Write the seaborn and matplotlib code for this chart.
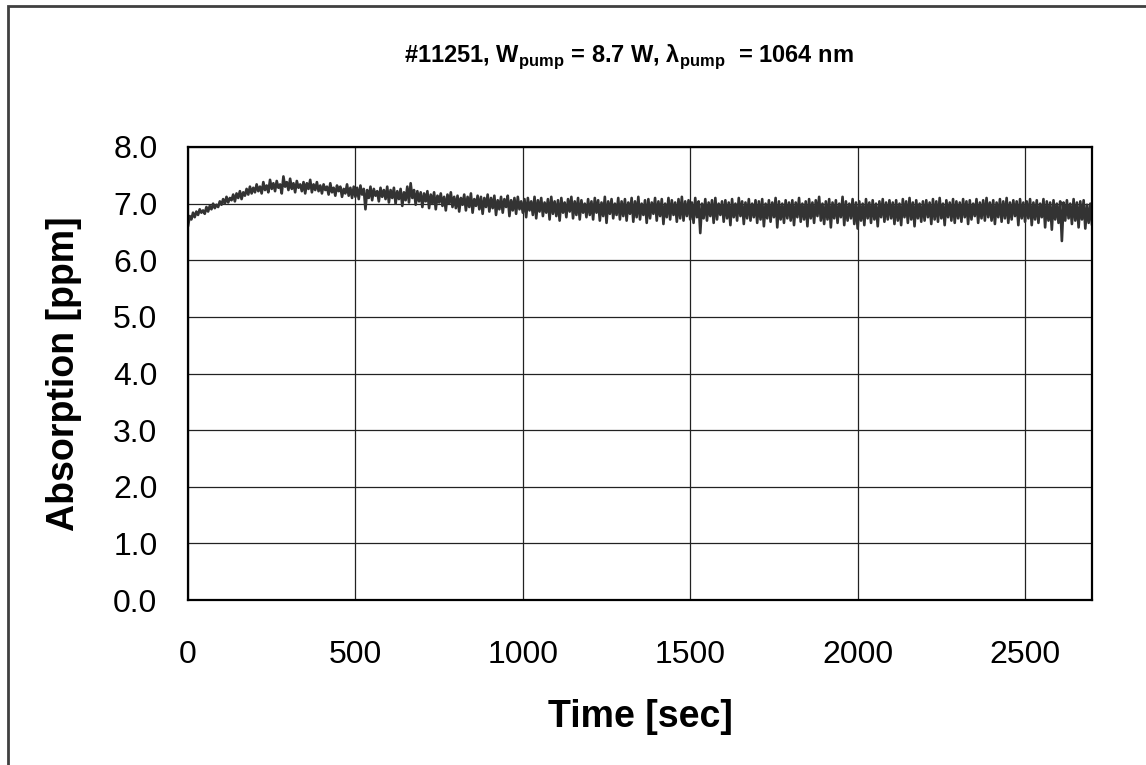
import numpy as np
import pandas as pd
import matplotlib
matplotlib.use("Agg")
import matplotlib.pyplot as plt
from matplotlib.patches import Rectangle
import seaborn as sns

# absorption readings, one every 5 s (0 .. 2700 s)
absorption = [
    6.60, 6.78, 6.72, 6.84, 6.76, 6.86, 6.80, 6.90, 6.84, 6.88, 6.82, 6.94, 6.86, 6.96, 6.90, 7.00, 6.92, 6.98, 6.94, 7.04,
    6.98, 7.08, 7.00, 7.12, 7.02, 7.10, 7.06, 7.16, 7.04, 7.18, 7.10, 7.22, 7.08, 7.20, 7.14, 7.26, 7.16, 7.30, 7.18, 7.28,
    7.20, 7.34, 7.22, 7.30, 7.18, 7.38, 7.24, 7.32, 7.20, 7.42, 7.26, 7.36, 7.22, 7.40, 7.28, 7.34, 7.18, 7.48, 7.30, 7.38,
    7.24, 7.44, 7.26, 7.36, 7.20, 7.40, 7.28, 7.34, 7.22, 7.38, 7.18, 7.36, 7.26, 7.42, 7.20, 7.34, 7.24, 7.38, 7.22, 7.32,
    7.18, 7.34, 7.24, 7.30, 7.16, 7.36, 7.20, 7.28, 7.14, 7.32, 7.22, 7.30, 7.12, 7.26, 7.18, 7.34, 7.14, 7.28, 7.10, 7.30,
    7.12, 7.28, 7.08, 7.32, 7.16, 7.26, 6.90, 7.24, 7.10, 7.30, 7.06, 7.26, 7.14, 7.22, 7.04, 7.28, 7.12, 7.24, 7.08, 7.30,
    7.02, 7.24, 7.10, 7.28, 7.00, 7.22, 7.08, 7.26, 6.96, 7.20, 7.06, 7.30, 7.02, 7.36, 7.10, 7.24, 6.98, 7.22, 7.04, 7.20,
    6.94, 7.18, 7.04, 7.22, 6.92, 7.16, 7.00, 7.20, 6.90, 7.14, 7.02, 7.18, 6.96, 7.12, 6.88, 7.16, 7.00, 7.20, 6.94, 7.12,
    6.92, 7.14, 6.86, 7.10, 6.98, 7.16, 6.88, 7.12, 6.94, 7.18, 6.84, 7.08, 6.96, 7.14, 6.90, 7.12, 6.82, 7.10, 6.94, 7.16,
    6.86, 7.10, 6.92, 7.14, 6.80, 7.06, 6.90, 7.12, 6.84, 7.08, 6.94, 7.14, 6.78, 7.06, 6.88, 7.10, 6.82, 7.12, 6.90, 7.04,
    6.84, 7.08, 6.76, 7.10, 6.88, 7.04, 6.80, 7.12, 6.74, 7.06, 6.86, 7.10, 6.78, 7.02, 6.84, 7.08, 6.72, 7.12, 6.82, 7.04,
    6.78, 7.06, 6.70, 7.10, 6.84, 7.02, 6.76, 7.08, 6.86, 7.12, 6.74, 7.04, 6.80, 7.10, 6.72, 7.06, 6.84, 7.00, 6.76, 7.08,
    6.80, 7.04, 6.72, 7.10, 6.84, 7.06, 6.70, 7.02, 6.78, 7.12, 6.66, 7.04, 6.82, 7.08, 6.74, 7.00, 6.80, 7.10, 6.72, 7.04,
    6.78, 7.08, 6.70, 7.02, 6.82, 7.10, 6.68, 7.04, 6.76, 7.12, 6.72, 7.00, 6.80, 7.06, 6.66, 7.08, 6.74, 7.02, 6.82, 7.10,
    6.70, 7.04, 6.78, 7.08, 6.64, 7.00, 6.76, 7.10, 6.72, 7.06, 6.80, 7.02, 6.68, 7.08, 6.74, 7.12, 6.70, 7.04, 6.78, 7.06,
    6.72, 7.02, 6.66, 7.10, 6.76, 7.04, 6.48, 7.00, 6.74, 7.08, 6.70, 7.02, 6.78, 7.06, 6.66, 7.10, 6.72, 7.00, 6.80, 7.04,
    6.68, 7.06, 6.74, 7.02, 6.62, 7.08, 6.76, 7.00, 6.70, 7.10, 6.78, 7.04, 6.64, 7.02, 6.74, 7.08, 6.70, 7.00, 6.76, 7.06,
    6.66, 7.04, 6.72, 7.08, 6.60, 7.00, 6.74, 7.06, 6.68, 7.02, 6.76, 7.10, 6.58, 7.04, 6.72, 7.00, 6.66, 7.06, 6.74, 7.02,
    6.70, 7.06, 6.62, 7.02, 6.76, 7.10, 6.68, 7.00, 6.72, 7.04, 6.60, 7.08, 6.74, 7.02, 6.66, 7.06, 6.78, 7.12, 6.70, 7.00,
    6.64, 7.04, 6.72, 7.08, 6.58, 7.02, 6.74, 7.06, 6.66, 7.00, 6.76, 7.12, 6.62, 7.04, 6.70, 7.00, 6.74, 7.08, 6.64, 7.02,
    6.56, 7.04, 6.70, 7.00, 6.62, 7.08, 6.74, 7.02, 6.66, 7.06, 6.72, 7.00, 6.60, 7.04, 6.76, 7.08, 6.68, 7.02, 6.72, 7.06,
    6.74, 7.02, 6.64, 7.06, 6.70, 7.00, 6.62, 7.08, 6.76, 7.04, 6.66, 7.10, 6.72, 7.02, 6.60, 7.06, 6.74, 7.00, 6.68, 7.04,
    6.70, 7.06, 6.76, 7.02, 6.64, 7.08, 6.72, 7.04, 6.68, 7.10, 6.74, 7.00, 6.62, 7.06, 6.76, 7.02, 6.70, 7.08, 6.66, 7.04,
    6.74, 7.02, 6.68, 7.08, 6.76, 7.04, 6.64, 7.06, 6.72, 7.00, 6.78, 7.08, 6.66, 7.02, 6.74, 7.06, 6.70, 7.10, 6.76, 7.02,
    6.70, 7.06, 6.64, 7.02, 6.76, 7.08, 6.68, 7.04, 6.74, 7.10, 6.66, 7.02, 6.72, 7.06, 6.78, 7.04, 6.62, 7.08, 6.74, 7.02,
    6.68, 7.04, 6.74, 7.08, 6.62, 7.02, 6.72, 7.06, 6.66, 7.00, 6.76, 7.08, 6.58, 7.04, 6.70, 7.02, 6.54, 7.06, 6.72, 7.00,
    6.66, 7.04, 6.34, 7.02, 6.70, 7.06, 6.74, 7.00, 6.64, 7.08, 6.70, 7.02, 6.58, 7.04, 6.72, 7.06, 6.56, 6.98, 6.66, 7.00,
    6.62,
]
time_sec = list(range(0, 5 * len(absorption), 5))

x_ticks = [0, 500, 1000, 1500, 2000, 2500]
y_ticks = [0.0, 1.0, 2.0, 3.0, 4.0, 5.0, 6.0, 7.0, 8.0]

df = pd.DataFrame({"time": time_sec, "absorption": absorption})

sns.set_style("white")
plt.rcParams["font.family"] = ["Liberation Sans", "DejaVu Sans"]
plt.rcParams["mathtext.fontset"] = "custom"
plt.rcParams["mathtext.rm"] = "Liberation Sans"
plt.rcParams["mathtext.bf"] = "Liberation Sans:bold"
plt.rcParams["text.color"] = "black"
plt.rcParams["axes.labelcolor"] = "black"

fig = plt.figure(figsize=(11.46, 7.65), dpi=100)
ax = fig.add_axes([188 / 1146, 1 - 600 / 765, 904 / 1146, 453 / 765])

sns.lineplot(data=df, x="time", y="absorption", ax=ax, color="#333333", linewidth=1.9)

ax.set_xlim(0, 2700)
ax.set_ylim(0, 8)
ax.set_xticks(x_ticks)
ax.set_yticks(y_ticks)
ax.set_yticklabels([f"{v:.1f}" for v in y_ticks])
ax.tick_params(axis="both", length=0, labelsize=23, colors="black")
ax.tick_params(axis="x", pad=29)
ax.tick_params(axis="y", pad=22)

ax.grid(True, color="#222222", linewidth=0.9)
ax.set_axisbelow(True)
for s in ax.spines.values():
    s.set_color("black")
    s.set_linewidth(1.6)

ax.set_xlabel("Time [sec]", fontsize=27, fontweight="bold")
ax.set_ylabel("Absorption [ppm]", fontsize=27, fontweight="bold")
ax.xaxis.set_label_coords(0.5, -0.218)
ax.yaxis.set_label_coords(-0.117, 0.5)

fig.text(629 / 1146, 1 - 57 / 765,
         r"#11251, W$_{\mathbf{pump}}$ = 8.7 W, λ$_{\mathbf{pump}}$  = 1064 nm",
         ha="center", va="center", fontsize=17, fontweight="bold")

# outer chart border (only left and top edges fall inside the image)
fig.patches.append(Rectangle((8 / 1146, -0.5), 2, 0.5 + 1 - 6 / 765,
                             transform=fig.transFigure, fill=False,
                             edgecolor="#404040", linewidth=2))

fig.savefig("out.png", dpi=100)
